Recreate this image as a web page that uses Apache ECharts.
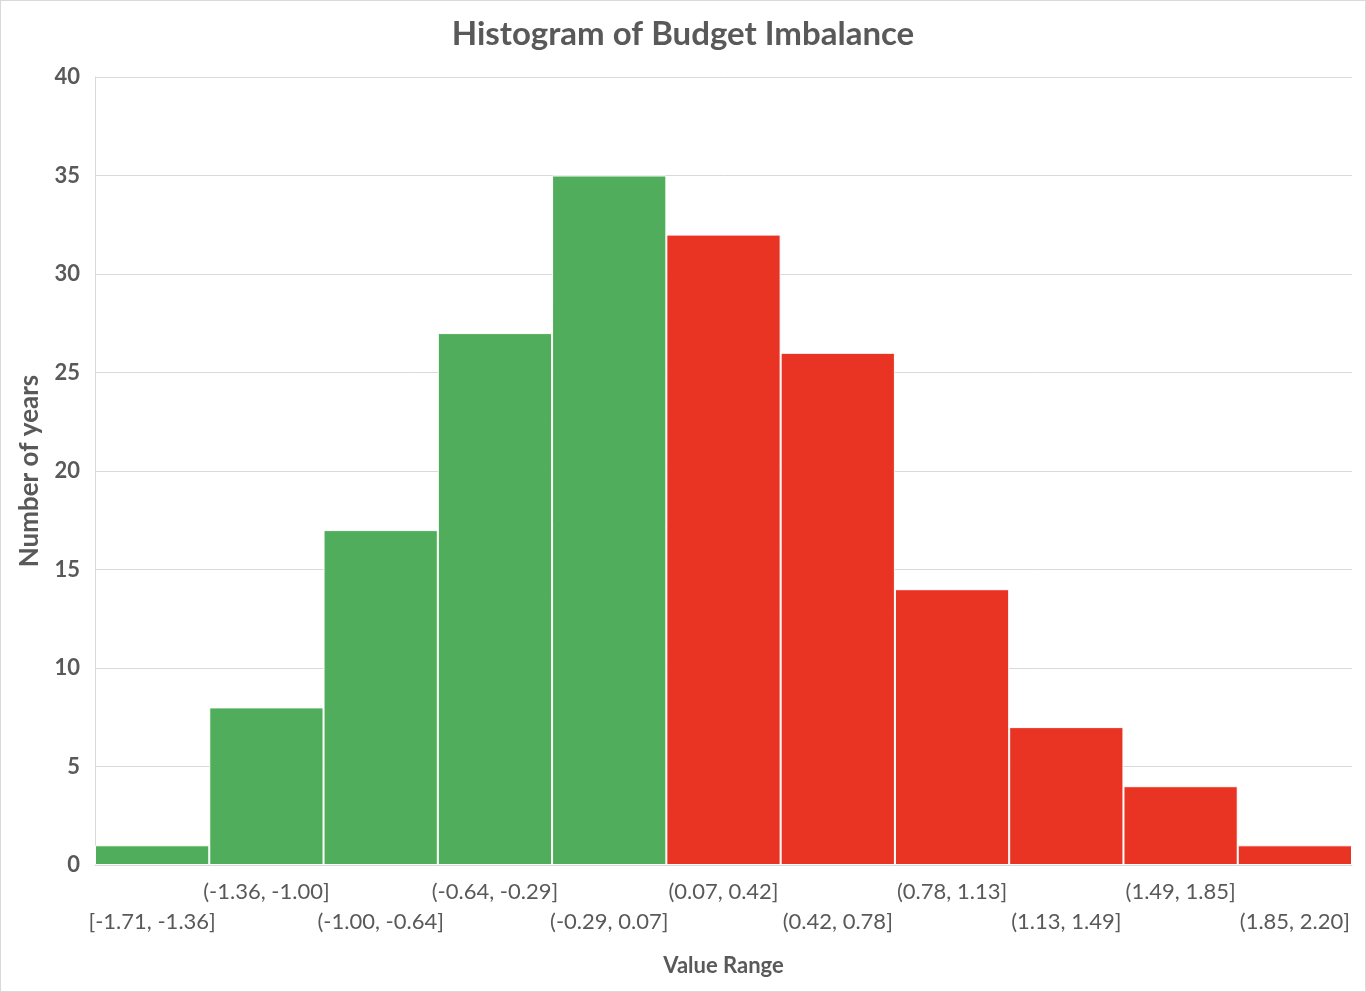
<!DOCTYPE html>
<html>
<head>
<meta charset="utf-8">
<script src="https://cdn.jsdelivr.net/npm/echarts@6/dist/echarts.min.js"></script>
<style>
html,body{margin:0;padding:0;background:#fff;}
#c{width:1366px;height:992px;}
#frame{position:absolute;left:0;top:0;width:1366px;height:992px;box-sizing:border-box;border:1px solid #d9d9d9;pointer-events:none;}
</style>
</head>
<body>
<div id="c"></div>
<div id="frame"></div>
<script>
const categories = ['[-1.71, -1.36]','(-1.36, -1.00]','(-1.00, -0.64]','(-0.64, -0.29]','(-0.29, 0.07]','(0.07, 0.42]','(0.42, 0.78]','(0.78, 1.13]','(1.13, 1.49]','(1.49, 1.85]','(1.85, 2.20]'];
const counts = [1, 8, 17, 27, 35, 32, 26, 14, 7, 4, 1];
const isSurplus = [true, true, true, true, true, false, false, false, false, false, false];
const GREEN = '#4FAD5B', RED = '#E93323';
const FONT = 'Lato, "Open Sans", sans-serif';

const chart = echarts.init(document.getElementById('c'));
chart.setOption({
  animation: false,
  title: {
    text: 'Histogram of Budget Imbalance',
    left: 'center', top: 13,
    textStyle: {fontFamily: FONT, fontSize: 33, fontWeight: 'bold', color: '#595959'}
  },
  grid: {left: 95, right: 14, top: 77, bottom: 127, containLabel: false},
  xAxis: {
    type: 'category',
    data: categories,
    name: 'Value Range',
    nameLocation: 'middle',
    nameGap: 90,
    nameTextStyle: {fontFamily: FONT, fontSize: 22, fontWeight: 'bold', color: '#595959'},
    axisLine: {show: true, lineStyle: {color: '#d9d9d9', width: 1}},
    axisTick: {show: false},
    axisLabel: {
      interval: 0,
      margin: 12,
      fontFamily: FONT, fontSize: 22, color: '#595959', lineHeight: 30,
      formatter: (v, i) => (i % 2 === 0 ? '\n' + v : v)
    }
  },
  yAxis: {
    type: 'value',
    min: 0, max: 40, interval: 5,
    name: 'Number of years',
    nameLocation: 'middle',
    nameGap: 52,
    nameRotate: 90,
    nameTextStyle: {fontFamily: FONT, fontSize: 26, fontWeight: 'bold', color: '#595959'},
    axisLine: {show: true, lineStyle: {color: '#d9d9d9', width: 1}},
    axisTick: {show: false},
    axisLabel: {margin: 15, fontFamily: FONT, fontSize: 22, fontWeight: 'bold', color: '#595959'},
    splitLine: {lineStyle: {color: '#d9d9d9', width: 1}}
  },
  series: [{
    type: 'bar',
    barCategoryGap: '0%',
    data: counts.map((v, i) => ({value: v, itemStyle: {color: isSurplus[i] ? GREEN : RED}})),
    itemStyle: {borderColor: '#ffffff', borderWidth: 1}
  }]
});
</script>
</body>
</html>
